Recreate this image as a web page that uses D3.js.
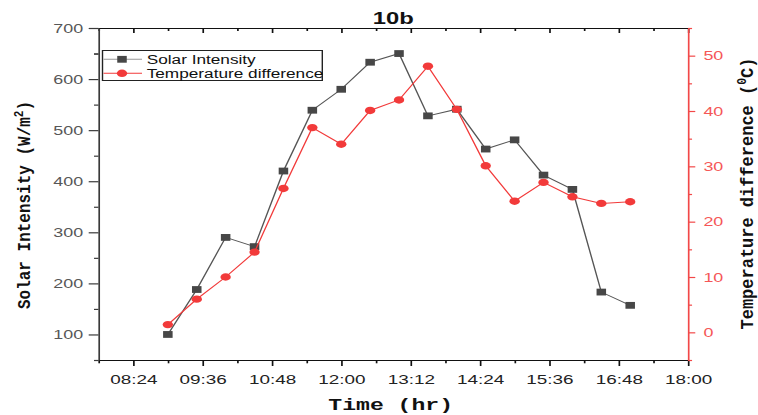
<!DOCTYPE html>
<html>
<head>
<meta charset="utf-8">
<script src="https://cdn.jsdelivr.net/npm/d3@7"></script>
<style>
  html, body { margin: 0; padding: 0; background: #fff; overflow: hidden; }
  svg { display: block; }
</style>
</head>
<body>
<script>
// Measurement times (hh:mm)
const times = ["09:00","09:30","10:00","10:30","11:00","11:30","12:00","12:30","13:00",
               "13:30","14:00","14:30","15:00","15:30","16:00","16:30","17:00"];
// Solar intensity, W/m²
const solarIntensity = [100, 188, 290, 272, 420, 539, 580, 633, 650,
                        528, 541, 463, 481, 412, 384, 183, 157];
// Temperature difference, °C
const tempDifference = [1.4, 6.0, 10.0, 14.5, 26.0, 37.0, 34.0, 40.1, 42.0,
                        48.1, 40.3, 30.1, 23.7, 27.1, 24.5, 23.3, 23.6];

const timeTickLabels = ["08:24","09:36","10:48","12:00","13:12","14:24","15:36","16:48","18:00"];
const solarTicks = [100, 200, 300, 400, 500, 600, 700];
const tempTicks = [0, 10, 20, 30, 40, 50];
const seriesNames = ["Solar Intensity", "Temperature difference"];

const W = 758, H = 415;
const SX = 1.4;              // the figure is drawn wide: horizontal stretch factor
const IW = W / SX;
const px = v => v / SX;      // screen pixels -> drawing units (horizontal)

const toHours = s => { const [h, m] = s.split(":").map(Number); return h + m / 60; };
const fmt = h => { const hh = Math.floor(h + 1e-9), mm = Math.round((h - hh) * 60);
                   return String(hh).padStart(2, "0") + ":" + String(mm).padStart(2, "0"); };

const svg = d3.select("body").append("svg")
  .attr("width", W).attr("height", H)
  .attr("viewBox", `0 0 ${IW} ${H}`)
  .attr("preserveAspectRatio", "none");

const x  = d3.scaleLinear().domain([7.8, 18]).range([px(98.5), px(688)]);
const yL = d3.scaleLinear().domain([50, 700]).range([360, 28]);
const yR = d3.scaleLinear().domain([-5, 55]).range([360, 28]);

const SANS = "'Liberation Sans', Arial, sans-serif";
const MONO = "'Courier New', 'Liberation Mono', monospace";

const RED = "#f23a3a", RED_AXIS = "#f24848", RED_TEXT = "#f55757";
const GREY = "#474747";

const xMajor = timeTickLabels.map(toHours);
const xMinor = xMajor.map(v => v - 0.6);
const leftMinor = solarTicks.map(v => v - 50).concat([650]);
const rightMinor = tempTicks.map(v => v - 5).concat([55]);

function styleAxis(g, lineColor, textColor, size) {
  g.attr("font-family", SANS).attr("font-size", size);
  g.selectAll("path, line").attr("stroke", lineColor).attr("stroke-width", 1.2);
  g.selectAll("text").attr("fill", textColor);
}

// Bottom axis
const gB = svg.append("g").attr("transform", "translate(0,360)");
gB.call(d3.axisBottom(x).tickValues(xMajor).tickFormat(fmt)
  .tickSize(6).tickPadding(8).tickSizeOuter(0));
gB.append("g").call(d3.axisBottom(x).tickValues(xMinor).tickFormat("")
  .tickSize(3.3).tickSizeOuter(0)).select(".domain").remove();
styleAxis(gB, "#111", "#222", 13.5);

// Top frame with inward ticks
const gT = svg.append("g").attr("transform", "translate(0,28)");
gT.call(d3.axisTop(x).tickValues(xMajor).tickFormat("").tickSize(-5).tickSizeOuter(0));
gT.append("g").call(d3.axisTop(x).tickValues(xMinor).tickFormat("")
  .tickSize(-3).tickSizeOuter(0)).select(".domain").remove();
styleAxis(gT, "#111", "#222", 12);

// Left axis (solar intensity)
const gL = svg.append("g").attr("transform", `translate(${x.range()[0]},0)`);
gL.call(d3.axisLeft(yL).tickValues(solarTicks).tickSize(7).tickPadding(4).tickSizeOuter(0));
gL.append("g").call(d3.axisLeft(yL).tickValues(leftMinor).tickFormat("")
  .tickSize(3.2).tickSizeOuter(0)).select(".domain").remove();
styleAxis(gL, "#3a3a3a", "#575757", 12.8);

// Right axis (temperature difference)
const gR = svg.append("g").attr("transform", `translate(${x.range()[1]},0)`);
gR.call(d3.axisRight(yR).tickValues(tempTicks).tickSize(5.2).tickPadding(5.8).tickSizeOuter(0));
gR.append("g").call(d3.axisRight(yR).tickValues(rightMinor).tickFormat("")
  .tickSize(2.9).tickSizeOuter(0)).select(".domain").remove();
styleAxis(gR, RED_AXIS, RED_TEXT, 12.8);

// Series
const rows = times.map((t, i) => ({ h: toHours(t), s: solarIntensity[i], t: tempDifference[i] }));

svg.append("path").datum(rows)
  .attr("fill", "none").attr("stroke", "#555").attr("stroke-width", 1)
  .attr("d", d3.line().x(d => x(d.h)).y(d => yL(d.s)));
const SQ = 6.8;
svg.append("g").selectAll("rect").data(rows).join("rect")
  .attr("x", d => x(d.h) - SQ / 2).attr("y", d => yL(d.s) - SQ / 2)
  .attr("width", SQ).attr("height", SQ).attr("fill", GREY);

svg.append("path").datum(rows)
  .attr("fill", "none").attr("stroke", RED).attr("stroke-width", 1)
  .attr("d", d3.line().x(d => x(d.h)).y(d => yR(d.t)));
svg.append("g").selectAll("circle").data(rows).join("circle")
  .attr("cx", d => x(d.h)).attr("cy", d => yR(d.t)).attr("r", 3.7).attr("fill", RED);

// Title
svg.append("text").attr("x", px(393.3)).attr("y", 24).attr("text-anchor", "middle")
  .attr("font-family", SANS).attr("font-weight", "bold").attr("font-size", 17)
  .attr("fill", "#111").text("10b");

// Axis titles
svg.append("text").attr("x", px(390.7)).attr("y", 410).attr("text-anchor", "middle")
  .attr("font-family", MONO).attr("font-weight", "bold").attr("font-size", 16.5)
  .attr("fill", "#111").text("Time (hr)");

// rotated titles: glyph height is squeezed a little so the stretched drawing keeps them slim
const tl = svg.append("text").attr("transform", `translate(${px(30)},205) rotate(-90) scale(1,0.8)`)
  .attr("text-anchor", "middle").attr("font-family", MONO).attr("font-weight", "bold")
  .attr("font-size", 16).attr("fill", "#111");
tl.append("tspan").text("Solar Intensity (W/m");
tl.append("tspan").attr("font-size", 11).attr("dy", -6).text("2");
tl.append("tspan").attr("dy", 6).text(")");

const tr = svg.append("text").attr("transform", `translate(${px(752.5)},193.5) rotate(-90) scale(1,0.8)`)
  .attr("text-anchor", "middle").attr("font-family", MONO).attr("font-weight", "bold")
  .attr("font-size", 17).attr("fill", "#111");
tr.append("tspan").text("Temperature difference (");
tr.append("tspan").attr("font-size", 11.5).attr("dy", -6).text("0");
tr.append("tspan").attr("dy", 6).text("C)");

// Legend
const lg = svg.append("g");
lg.append("rect").attr("x", px(102.5)).attr("y", 50.5).attr("width", px(322.3) - px(102.5)).attr("height", 30)
  .attr("fill", "#fff").attr("stroke", "#222").attr("stroke-width", 1);
const rowsY = [59.3, 73.3];
const lx0 = px(103.5), lx1 = px(142), lxm = px(122), ltx = px(146.7);
// solar entry
lg.append("line").attr("x1", lx0).attr("x2", lx1).attr("y1", rowsY[0]).attr("y2", rowsY[0])
  .attr("stroke", "#999").attr("stroke-width", 1);
lg.append("rect").attr("x", lxm - SQ / 2).attr("y", rowsY[0] - SQ / 2).attr("width", SQ).attr("height", SQ)
  .attr("fill", GREY);
// temperature entry
lg.append("line").attr("x1", lx0).attr("x2", lx1).attr("y1", rowsY[1]).attr("y2", rowsY[1])
  .attr("stroke", RED).attr("stroke-width", 1);
lg.append("circle").attr("cx", lxm).attr("cy", rowsY[1]).attr("r", 3.7).attr("fill", RED);
lg.selectAll("text.lab").data(seriesNames).join("text").attr("class", "lab")
  .attr("x", ltx).attr("y", (d, i) => rowsY[i] + 4.3)
  .attr("font-family", SANS).attr("font-size", 12.3).attr("fill", "#111").text(d => d);
</script>
</body>
</html>
